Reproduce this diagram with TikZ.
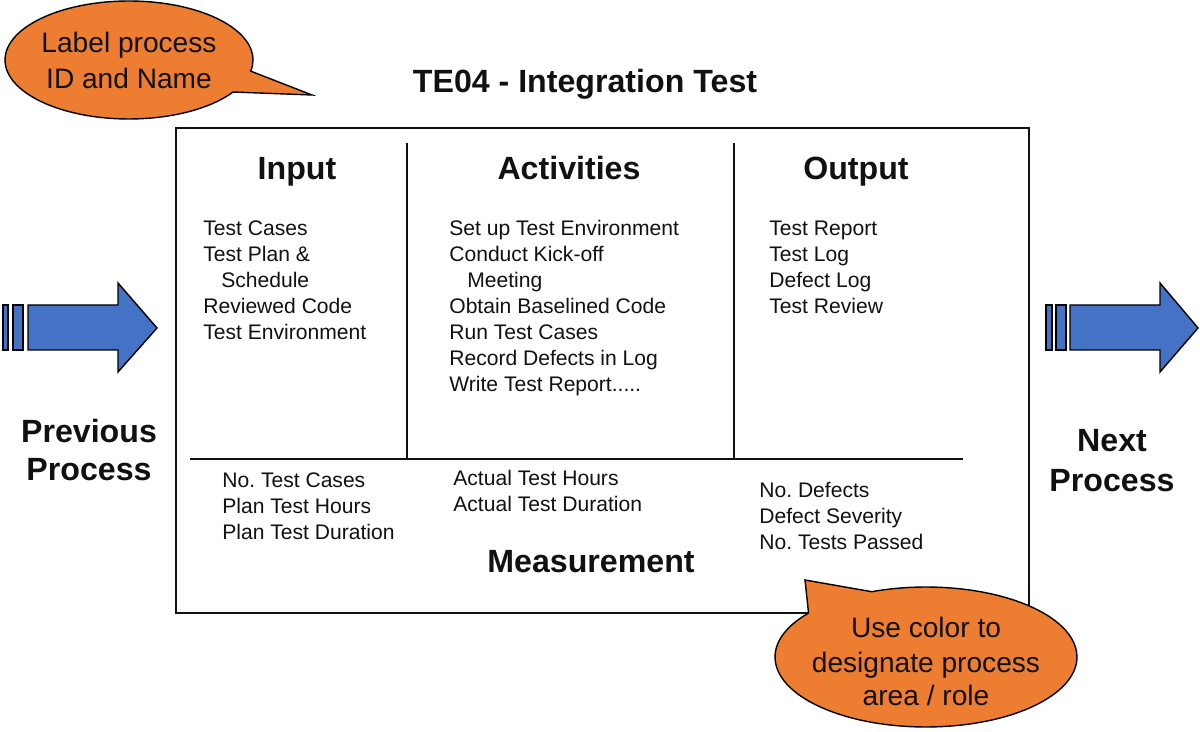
\documentclass[tikz,border=0pt]{standalone}
\usepackage{fontspec}
\setmainfont{Liberation Sans}
\usetikzlibrary{shapes.callouts}
\definecolor{callorange}{HTML}{ED7D31}
\definecolor{arrowblue}{HTML}{4472C4}
\definecolor{ink}{HTML}{111111}
\newcommand{\repdots}{.....}
\frenchspacing
\begin{document}
\begin{tikzpicture}[x=0.02cm,y=-0.02cm,
 item/.style={anchor=base west, inner sep=0, font=\fontsize{12}{14}\selectfont, text=ink},
 head/.style={anchor=base, inner sep=0, font=\fontsize{18.3}{22}\bfseries\selectfont, text=ink},
 calltext/.style={anchor=base, inner sep=0, font=\fontsize{16}{19}\selectfont, text=ink},
 callbox/.style={ellipse callout, draw=black, line width=0.8pt, fill=callorange, inner sep=0},
 arrowshape/.style={draw=black, line width=0.8pt, fill=arrowblue},
 frame/.style={draw=ink, line width=1.2pt},
 divider/.style={draw=ink, line width=0.9pt}]
\useasboundingbox (0,0) rectangle (1200,732);

% main frame and dividers
\draw[frame] (176,128) rectangle (1029,613);
\draw[divider] (407,143) -- (407,458);
\draw[divider] (734,143) -- (734,458);
\draw[divider] (190,459) -- (963,459);

% title
\node[head] (title) at (585,93) {TE04 - Integration Test};

% column headers
\node[head] (hin) at (297,180) {Input};
\node[head] (hact) at (569,180) {Activities};
\node[head] (hout) at (856,180) {Output};
\node[head] (hmeas) at (591,573) {Measurement};

% lists
\foreach \t [count=\i from 0] in {Test Cases, Test Plan \&, \hspace{10.2pt}Schedule, Reviewed Code, Test Environment}
  \node[item] (in\i) at (203,{236+26*\i}) {\t};
\foreach \t [count=\i from 0] in {Set up Test Environment, Conduct Kick-off, \hspace{10.2pt}Meeting, Obtain Baselined Code, Run Test Cases, Record Defects in Log, Write Test Report\repdots}
  \node[item] (act\i) at (449,{236+26*\i}) {\t};
\foreach \t [count=\i from 0] in {Test Report, Test Log, Defect Log, Test Review}
  \node[item] (out\i) at (769,{236+26*\i}) {\t};
\foreach \t [count=\i from 0] in {No. Test Cases, Plan Test Hours, Plan Test Duration}
  \node[item] (ml\i) at (222,{488+26*\i}) {\t};
\foreach \t [count=\i from 0] in {Actual Test Hours, Actual Test Duration}
  \node[item] (mm\i) at (453,{486+26*\i}) {\t};
\foreach \t [count=\i from 0] in {No. Defects, Defect Severity, No. Tests Passed}
  \node[item] (mr\i) at (759,{498+26*\i}) {\t};

% left arrow
\draw[arrowshape] (3,305) rectangle (8,350);
\draw[arrowshape] (13,305) rectangle (23,350);
\draw[arrowshape] (28,305) -- (118,305) -- (118,283) -- (157,328) -- (118,372) -- (118,350) -- (28,350) -- cycle;
\node[head] (prev1) at (89,443) {Previous};
\node[head] (prev2) at (89,481) {Process};

% right arrow
\draw[arrowshape] (1046,305) rectangle (1052,350);
\draw[arrowshape] (1056,305) rectangle (1066,350);
\draw[arrowshape] (1070,305) -- (1160,305) -- (1160,283) -- (1198,328) -- (1160,372) -- (1160,350) -- (1070,350) -- cycle;
\node[head] (next1) at (1112,452) {Next};
\node[head] (next2) at (1112,492) {Process};

% callout 1
\node[callbox, minimum width=4.96cm, minimum height=2.36cm, callout pointer arc=22, callout absolute pointer={(312,95)}] (c1) at (129,60) {};
\node[calltext] (c1a) at (129,53) {Label process};
\node[calltext] (c1b) at (129,89) {ID and Name};

% callout 2
\node[callbox, minimum width=6.04cm, minimum height=2.8cm, callout pointer arc=30, callout absolute pointer={(805,580)}] (c2) at (926,657) {};
\node[calltext] (c2a) at (926,638) {Use color to};
\node[calltext] (c2b) at (926,672) {designate process};
\node[calltext] (c2c) at (926,705) {area / role};
\end{tikzpicture}
\end{document}
